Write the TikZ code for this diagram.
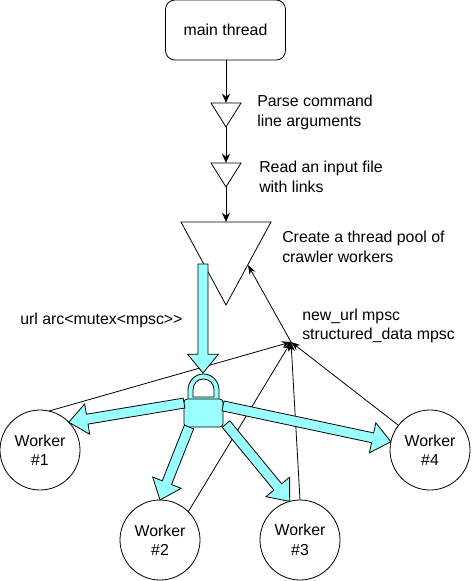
\documentclass[tikz,border=0pt]{standalone}
\usepackage{fontspec}
\setmainfont{Liberation Sans}
\usepackage{xcolor}
\usetikzlibrary{calc, arrows.meta, shapes.geometric}
\definecolor{lockcyan}{HTML}{99FFFF}
\tikzset{
  stage/.style={draw, isosceles triangle, isosceles triangle stretches, shape border rotate=270, inner sep=0pt, outer sep=0pt, anchor=apex, line width=0.6pt},
  worker/.style={draw, circle, minimum size=60pt, inner sep=0pt, outer sep=0pt, align=center, font=\mainfont, line width=0.6pt},
  note/.style={anchor=west, align=left, inner sep=0pt, font=\mainfont},
  flow/.style={-{Stealth[length=7pt,width=6pt]}, line width=0.75pt},
  feedback/.style={-{Stealth[length=7pt,width=5pt]}, line width=0.6pt},
  block/.style={draw, fill=lockcyan, line width=0.6pt, line join=miter}
}
\newcommand{\mainfont}{\fontsize{11.9}{14.6}\selectfont}
% block arrow from #1 to #2
\newcommand{\blockarrow}[2]{
  \coordinate (neck) at ($(#2)!14pt!(#1)$);
  \draw[block] ($(#1)!3.75pt!90:(#2)$) -- ($(neck)!3.75pt!-90:(#1)$) -- ($(neck)!11.5pt!-90:(#1)$) -- (#2)
    -- ($(neck)!11.5pt!90:(#1)$) -- ($(neck)!3.75pt!90:(#1)$) -- ($(#1)!3.75pt!-90:(#2)$) -- cycle;
}
\begin{document}
\begin{tikzpicture}[x=0.75pt,y=-0.75pt]
  \useasboundingbox (0,0) rectangle (471,581);

  \node[draw, rounded corners=7pt, minimum width=90pt, minimum height=45pt, inner sep=0pt, outer sep=0pt, line width=0.6pt, font=\mainfont] (main) at (225.5,30) {\raisebox{-0.75pt}{main thread}};

  \node[stage, minimum width=22.5pt, minimum height=18pt] (parse) at (226,127) {};
  \node[stage, minimum width=22.5pt, minimum height=18pt] (read) at (226,187) {};
  \node[stage, minimum width=67.5pt, minimum height=62.25pt] (pool) at (226,305) {};

  \draw[flow] (main.south -| parse.apex) -- (parse.lower side);
  \draw[flow] (parse.apex) -- (read.lower side);
  \draw[flow] (read.apex) -- (pool.lower side);

  \node[note] (parsetext) at (257,112.5) {Parse command\\line arguments};
  \node[note] (readtext) at (259,177) {Read an input file\\with links};
  \node[note] (pooltext) at (282,247) {Create a thread pool of\\crawler workers};
  \node[note] (urltext) at (20,320.5) {url arc<mutex<mpsc>{}>};
  \node[note] (mpsctext) at (302,326) {new\_url mpsc\\structured\_data mpsc};

  \foreach \name/\num/\x/\y in {worker1/1/40/450, worker2/2/160/540, worker3/3/300/540, worker4/4/430/450} {
    \node[worker] (\name) at (\x,\y) {Worker\\\#\num};
  }

  \coordinate (merge) at (291,342);
  \coordinate (poolin) at (248,265);
  \foreach \from in {worker1.77, worker2.45, worker3.north, worker4.142} {
    \draw[feedback] (\from) -- (merge);
  }
  \draw[feedback] (merge) -- (poolin);

  % padlock
  \draw[block, even odd rule] (188,400) -- (188,390) .. controls (188,381) and (195,374) .. (203.5,374)
    .. controls (212,374) and (219,381) .. (219,390) -- (219,400) -- cycle
    (193,397) -- (193,390) .. controls (193,384) and (197,379) .. (203.5,379)
    .. controls (210,379) and (214,384) .. (214,390) -- (214,397) -- cycle;
  \node[block, rounded corners=2.5pt, minimum width=29.25pt, minimum height=21pt, inner sep=0pt, outer sep=0pt] (lock) at (203.5,413) {};

  \coordinate (pooltail) at (203,264);
  \coordinate (locktop) at (203,373);
  \coordinate (lockside) at (226,424);
  \blockarrow{pooltail}{locktop}
  \blockarrow{lock.153}{worker1.44}
  \blockarrow{lock.224}{worker2.north}
  \blockarrow{lockside}{worker3.105}
  \blockarrow{lock.20}{worker4.168}
\end{tikzpicture}
\end{document}
